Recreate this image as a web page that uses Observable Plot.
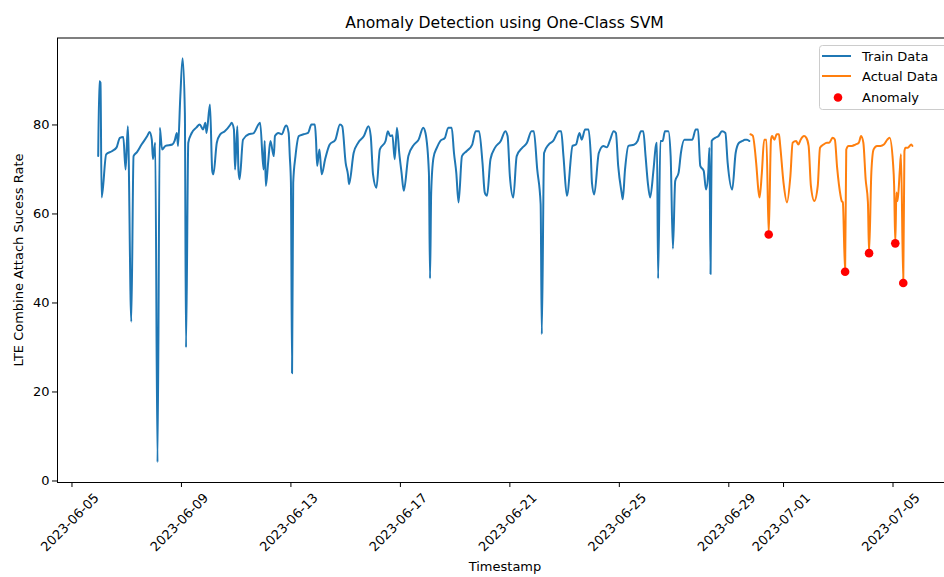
<!DOCTYPE html>
<html>
<head>
<meta charset="utf-8">
<script src="https://cdn.jsdelivr.net/npm/d3@7"></script>
<script src="https://cdn.jsdelivr.net/npm/@observablehq/plot@0.6"></script>
<style>
  body { margin: 0; background: #fff; }
  #chart svg { overflow: hidden; }
</style>
</head>
<body>
<div id="chart"></div>
<script>
// Hourly LTE combined attach success rate (%), 2023 — "MM-DD HH" stamps.
const trainTime = [
  "06-05 23","06-06 00","06-06 01","06-06 02","06-06 06","06-06 11","06-06 15","06-06 18","06-06 21","06-06 23",
  "06-07 01","06-07 04","06-07 06","06-07 09","06-07 13","06-07 18","06-07 20","06-07 22","06-07 23",
  "06-08 01","06-08 03","06-08 05","06-08 07","06-08 10","06-08 16","06-08 18","06-08 20","06-08 21","06-08 23",
  "06-09 01","06-09 03","06-09 04","06-09 06","06-09 09","06-09 13","06-09 16","06-09 19","06-09 21","06-09 22",
  "06-10 01","06-10 03","06-10 04","06-10 07","06-10 10","06-10 14","06-10 19","06-10 20","06-10 22","06-10 23",
  "06-11 01","06-11 02","06-11 03","06-11 06","06-11 11","06-11 15","06-11 20","06-11 21",
  "06-12 00","06-12 01","06-12 02","06-12 04","06-12 06","06-12 09","06-12 10","06-12 13","06-12 16","06-12 19","06-12 20","06-12 22","06-12 23",
  "06-13 00","06-13 01","06-13 02","06-13 04","06-13 07","06-13 11","06-13 15","06-13 18","06-13 21","06-13 22","06-13 23",
  "06-14 01","06-14 03","06-14 06","06-14 10","06-14 15","06-14 19","06-14 21",
  "06-15 00","06-15 02","06-15 03","06-15 07","06-15 11","06-15 16","06-15 20","06-15 22",
  "06-16 00","06-16 03","06-16 06","06-16 11","06-16 13","06-16 15","06-16 17","06-16 19","06-16 21","06-16 23",
  "06-17 01","06-17 03","06-17 07","06-17 12","06-17 16","06-17 20","06-17 22",
  "06-18 01","06-18 02","06-18 03","06-18 05","06-18 08","06-18 11","06-18 15","06-18 18","06-18 21","06-18 23",
  "06-19 01","06-19 03","06-19 06","06-19 10","06-19 15","06-19 18","06-19 21",
  "06-20 00","06-20 02","06-20 04","06-20 07","06-20 11","06-20 16","06-20 20","06-20 22",
  "06-21 00","06-21 03","06-21 06","06-21 11","06-21 15","06-21 19","06-21 21",
  "06-22 00","06-22 03","06-22 04","06-22 06","06-22 10","06-22 14","06-22 19","06-22 21","06-22 23",
  "06-23 02","06-23 07","06-23 10","06-23 13","06-23 15","06-23 18","06-23 21","06-23 23",
  "06-24 00","06-24 02","06-24 06","06-24 10","06-24 13","06-24 16","06-24 19","06-24 21","06-24 23",
  "06-25 02","06-25 03","06-25 05","06-25 08","06-25 13","06-25 16","06-25 19","06-25 21","06-25 23",
  "06-26 01","06-26 03","06-26 06","06-26 08","06-26 09","06-26 10","06-26 12","06-26 14","06-26 16","06-26 19","06-26 21","06-26 23",
  "06-27 01","06-27 04","06-27 06","06-27 09","06-27 13","06-27 16","06-27 19","06-27 21","06-27 23",
  "06-28 02","06-28 04","06-28 06","06-28 07","06-28 08","06-28 09","06-28 12","06-28 15","06-28 18","06-28 21","06-28 23",
  "06-29 03","06-29 06","06-29 09","06-29 12","06-29 14","06-29 16","06-29 18"
];
const trainValue = [
  73.0,89.8,89.5,63.7,73.4,74.1,74.9,77.1,77.3,70.0,
  79.7,35.8,73.0,73.9,75.6,77.5,78.4,76.7,72.3,
  76.0,4.2,79.4,74.5,75.3,75.6,76.4,78.2,75.3,86.4,
  95.0,82.7,30.0,76.0,78.2,79.4,80.1,79.0,80.5,78.2,
  84.6,69.7,68.9,76.0,77.9,78.6,80.1,80.5,79.0,70.0,
  79.7,69.7,67.8,76.7,77.9,78.1,80.3,80.5,
  70.0,76.4,66.3,71.5,76.4,73.0,77.5,78.2,77.9,79.7,79.9,78.2,73.0,
  67.0,24.2,67.0,73.0,77.5,77.9,78.2,80.1,80.1,76.7,70.8,
  74.5,68.9,72.3,75.6,76.7,80.1,79.7,
  71.5,68.9,66.7,73.7,76.0,77.5,79.7,77.5,
  68.9,65.9,74.5,76.4,78.6,77.5,77.7,72.3,79.4,73.7,
  69.3,65.2,73.0,75.6,76.7,79.4,78.2,
  69.3,45.5,64.8,72.6,74.9,76.4,77.1,79.4,79.4,73.7,
  69.3,62.6,73.0,74.1,75.6,78.6,78.6,
  71.5,64.8,64.1,72.3,74.9,76.4,78.6,77.5,
  68.5,63.7,73.0,74.9,76.0,78.6,78.6,
  70.0,62.2,33.0,73.7,75.6,76.4,78.6,78.6,73.0,
  64.1,75.3,75.6,78.2,76.7,79.0,79.0,73.0,
  67.0,64.4,73.7,75.3,75.0,76.7,78.6,78.2,70.8,
  64.8,63.3,70.0,75.3,75.6,76.4,78.6,78.6,73.0,
  67.0,63.7,70.0,75.3,76.0,45.5,76.4,76.4,78.6,78.6,73.0,52.2,
  67.4,69.3,73.7,76.7,76.7,76.7,79.0,79.0,70.8,
  69.7,65.5,69.3,74.9,46.5,76.4,77.1,77.5,78.6,78.2,71.5,
  65.5,73.7,76.0,76.4,76.7,76.7,76.4
];

const actualTime = [
  "06-29 19","06-29 21",
  "06-30 00","06-30 02","06-30 03","06-30 05","06-30 07","06-30 09","06-30 11","06-30 13","06-30 14","06-30 16","06-30 18","06-30 20","06-30 21",
  "07-01 00","07-01 03","07-01 06","07-01 08","07-01 11","07-01 13","07-01 15","07-01 18","07-01 20","07-01 22",
  "07-02 00","07-02 03","07-02 06","07-02 08","07-02 11","07-02 14","07-02 16","07-02 19","07-02 21","07-02 23",
  "07-03 02","07-03 03","07-03 04","07-03 06","07-03 07","07-03 09","07-03 12","07-03 15","07-03 18","07-03 20","07-03 22",
  "07-04 00","07-04 02","07-04 03","07-04 05","07-04 07","07-04 10","07-04 13","07-04 16","07-04 19","07-04 21",
  "07-05 00","07-05 01","07-05 02","07-05 03","07-05 04","07-05 06","07-05 07","07-05 09","07-05 10","07-05 11","07-05 13","07-05 16","07-05 17"
];
const actualValue = [
  77.9,77.6,
  71.5,65.2,63.7,69.3,76.7,76.7,55.4,76.7,77.5,76.7,77.9,77.9,75.6,
  67.0,62.6,68.5,76.0,76.4,75.6,76.7,77.5,77.1,75.3,
  66.3,62.9,66.3,74.9,75.6,76.0,76.0,77.1,76.7,70.4,
  64.1,62.9,62.6,47.0,74.5,75.3,75.3,75.6,76.0,77.5,76.0,
  67.8,62.6,51.2,69.3,74.5,75.3,75.3,75.6,76.7,77.1,
  71.5,66.3,53.4,64.8,62.9,70.0,73.4,44.5,74.1,74.9,74.9,75.6,75.3
];

// Hours flagged by the one-class SVM
const anomalyTime = ["06-30 11","07-03 06","07-04 03","07-05 02","07-05 09"];
const anomalyValue = [55.4, 47.0, 51.2, 53.4, 44.5];

const xTickLabels = ["2023-06-05","2023-06-09","2023-06-13","2023-06-17","2023-06-21","2023-06-25","2023-06-29","2023-07-01","2023-07-05"];
const yTicks = [0, 20, 40, 60, 80];

const parseStamp = d3.utcParse("%Y-%m-%d %H");
const toDate = s => parseStamp("2023-" + s);
const rows = (times, values) => times.map((t, i) => ({date: toDate(t), value: values[i]}));

const train = rows(trainTime, trainValue);
const actual = rows(actualTime, actualValue);
const anomalies = rows(anomalyTime, anomalyValue);
const xTicks = xTickLabels.map(d3.utcParse("%Y-%m-%d"));

// 5% padding around the data extent on both axes
const all = train.concat(actual);
const [t0, t1] = d3.extent(all, d => d.date);
const tPad = (t1 - t0) * 0.05;
const [v0, v1] = d3.extent(all, d => d.value);
const vPad = (v1 - v0) * 0.05;

const font = "DejaVu Sans, sans-serif";

const chart = Plot.plot({
  width: 944,
  height: 577,
  marginLeft: 57,
  marginRight: -8.6,
  marginTop: 37.5,
  marginBottom: 95,
  style: {fontFamily: font, fontSize: "13px", color: "#000", background: "#fff", overflow: "hidden"},
  x: {type: "utc", domain: [new Date(+t0 - tPad), new Date(+t1 + tPad)]},
  y: {domain: [v0 - vPad, v1 + vPad]},
  marks: [
    Plot.line(train, {x: "date", y: "value", stroke: "#1f77b4", strokeWidth: 2, curve: "monotone-x"}),
    Plot.line(actual, {x: "date", y: "value", stroke: "#ff7f0e", strokeWidth: 2, curve: "monotone-x"}),
    Plot.dot(anomalies, {x: "date", y: "value", r: 4.3, fill: "#ff0000", stroke: "none"}),
    Plot.frame({stroke: "#000", strokeWidth: 1}),
    Plot.axisY({ticks: yTicks, tickSize: 5, tickPadding: 3, tickFormat: d => String(d), label: null, fontSize: 13}),
    Plot.axisX({ticks: xTicks, tickSize: 5, tickFormat: () => "", label: null}),
    Plot.text(xTicks, {
      x: d => d,
      text: (d, i) => xTickLabels[i],
      frameAnchor: "bottom",
      dy: 40,
      dx: -2,
      rotate: -45,
      textAnchor: "middle",
      lineAnchor: "middle",
      fontSize: 13
    })
  ]
});

document.getElementById("chart").append(chart);

// Title, axis titles and legend
const svg = d3.select(chart);

svg.append("text")
  .attr("x", 504.5).attr("y", 28)
  .attr("text-anchor", "middle")
  .style("font-family", font).style("font-size", "15.6px").attr("fill", "#000")
  .text("Anomaly Detection using One-Class SVM");

svg.append("text")
  .attr("x", 505).attr("y", 571)
  .attr("text-anchor", "middle")
  .style("font-family", font).style("font-size", "13px").attr("fill", "#000")
  .text("Timestamp");

svg.append("text")
  .attr("transform", "translate(18.5,260) rotate(-90)")
  .attr("text-anchor", "middle")
  .attr("dy", "0.35em")
  .style("font-family", font).style("font-size", "13px").attr("fill", "#000")
  .text("LTE Combine Attach Sucess Rate");

const legend = svg.append("g").attr("text-anchor", "start");
legend.append("rect")
  .attr("x", 819.5).attr("y", 45.5).attr("width", 130).attr("height", 64)
  .attr("rx", 3).attr("fill", "#fff").attr("fill-opacity", 0.8)
  .attr("stroke", "#cccccc").attr("stroke-width", 1);

const entries = [
  {label: "Train Data", color: "#1f77b4", kind: "line", y: 56},
  {label: "Actual Data", color: "#ff7f0e", kind: "line", y: 76},
  {label: "Anomaly", color: "#ff0000", kind: "dot", y: 97}
];
for (const e of entries) {
  if (e.kind === "line") {
    legend.append("line")
      .attr("x1", 822).attr("x2", 851).attr("y1", e.y).attr("y2", e.y)
      .attr("stroke", e.color).attr("stroke-width", 2);
  } else {
    legend.append("circle")
      .attr("cx", 838).attr("cy", e.y + 0.5).attr("r", 4.3).attr("fill", e.color);
  }
  legend.append("text")
    .attr("x", 862).attr("y", e.y).attr("dy", "0.35em")
    .attr("text-anchor", "start")
    .style("font-family", font).style("font-size", "13px").attr("fill", "#000")
    .text(e.label);
}
</script>
</body>
</html>
